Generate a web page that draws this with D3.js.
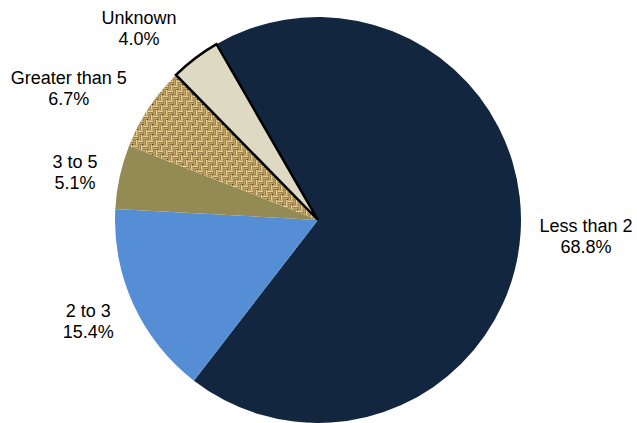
<!DOCTYPE html>
<html>
<head>
<meta charset="utf-8">
<script src="https://cdn.jsdelivr.net/npm/d3@7/dist/d3.min.js"></script>
<style>
  html, body { margin: 0; padding: 0; background: #fff; }
  svg { display: block; }
  text { font-family: "Liberation Sans", Arial, sans-serif; font-size: 18px; fill: #000; }
</style>
</head>
<body>
<svg id="chart" width="637" height="423"></svg>
<script>
// Share of records by range
const categories = ["Less than 2", "2 to 3", "3 to 5", "Greater than 5", "Unknown"];
const shares = [68.8, 15.4, 5.1, 6.7, 4.0];
const shareLabels = ["68.8%", "15.4%", "5.1%", "6.7%", "4.0%"];

const width = 637, height = 423;
const cx = 318, cy = 220, radius = 203;
const firstSliceDeg = -30;

const fills = {
  "Less than 2": "#12263f",
  "2 to 3": "#558ed5",
  "3 to 5": "#948a54",
  "Greater than 5": "url(#burlap)",
  "Unknown": "#ddd9c3"
};

// label placement tweaks (px) applied after the generic outside-the-rim placement
const labelNudge = {
  "Less than 2": [5, 0],
  "2 to 3": [-12, 4],
  "3 to 5": [-9, 2],
  "Greater than 5": [-20, -3],
  "Unknown": [-25, -6]
};

const svg = d3.select("#chart");

// woven burlap texture: basket weave of light threads over a brown ground
const defs = svg.append("defs");
const tile = 10, half = tile / 2;
const pat = defs.append("pattern")
  .attr("id", "burlap")
  .attr("patternUnits", "userSpaceOnUse")
  .attr("width", tile).attr("height", tile);
pat.append("rect").attr("width", tile).attr("height", tile).attr("fill", "#7e6230");
const threadCols = ["#e4cf95", "#c3a463"];
[[0, 0, "h"], [half, 0, "v"], [0, half, "v"], [half, half, "h"]].forEach(([x, y, dir]) => {
  for (let k = 0; k < 2; k++) {
    const off = 0.4 + k * 2.4;
    if (dir === "h") {
      pat.append("rect").attr("x", x).attr("y", y + off).attr("width", half).attr("height", 1.8)
        .attr("fill", threadCols[k]);
    } else {
      pat.append("rect").attr("x", x + off).attr("y", y).attr("width", 1.8).attr("height", half)
        .attr("fill", threadCols[(k + 1) % 2]);
    }
  }
});
pat.append("rect").attr("x", half - 1).attr("y", half - 1).attr("width", 1.2).attr("height", 1.2).attr("fill", "#4e3a1a");
pat.append("rect").attr("x", tile - 1).attr("y", tile - 1).attr("width", 1.2).attr("height", 1.2).attr("fill", "#5e4622");

const rows = categories.map((c, i) => ({ cat: c, value: shares[i], label: shareLabels[i] }));

const start = firstSliceDeg * Math.PI / 180;
const pie = d3.pie().sort(null).value(d => d.value)
  .startAngle(start).endAngle(start + 2 * Math.PI);
const arcs = pie(rows);
const arc = d3.arc().innerRadius(0).outerRadius(radius);

const g = svg.append("g").attr("transform", `translate(${cx},${cy})`);

g.selectAll("path.slice")
  .data(arcs)
  .join("path")
  .attr("class", "slice")
  .attr("d", arc)
  .attr("fill", d => fills[d.data.cat])
  .attr("stroke", d => d.data.cat === "Unknown" ? "#000" : "none")
  .attr("stroke-width", d => d.data.cat === "Unknown" ? 2.5 : 0)
  .attr("stroke-linejoin", "miter");

// bring the outlined slice on top so its border is not covered
g.selectAll("path.slice").filter(d => d.data.cat === "Unknown").raise();

// labels: two lines, box sits just outside the rim along the slice's mid angle
const pad = 14, boxH = 34;
const labels = svg.append("g");
arcs.forEach(d => {
  const a = (d.startAngle + d.endAngle) / 2;
  const s = Math.sin(a), c = -Math.cos(a);
  const t = labels.append("text").attr("text-anchor", "middle");
  const l1 = t.append("tspan").text(d.data.cat);
  const w = l1.node().getComputedTextLength();
  const px = cx + (radius + pad) * s, py = cy + (radius + pad) * c;
  const nudge = labelNudge[d.data.cat];
  const bx = px + s * w / 2 + nudge[0];
  const by = py + c * boxH / 2 + nudge[1];
  l1.attr("x", bx).attr("y", by - 4);
  t.append("tspan").attr("x", bx).attr("y", by + 17).text(d.data.label);
});
</script>
</body>
</html>
